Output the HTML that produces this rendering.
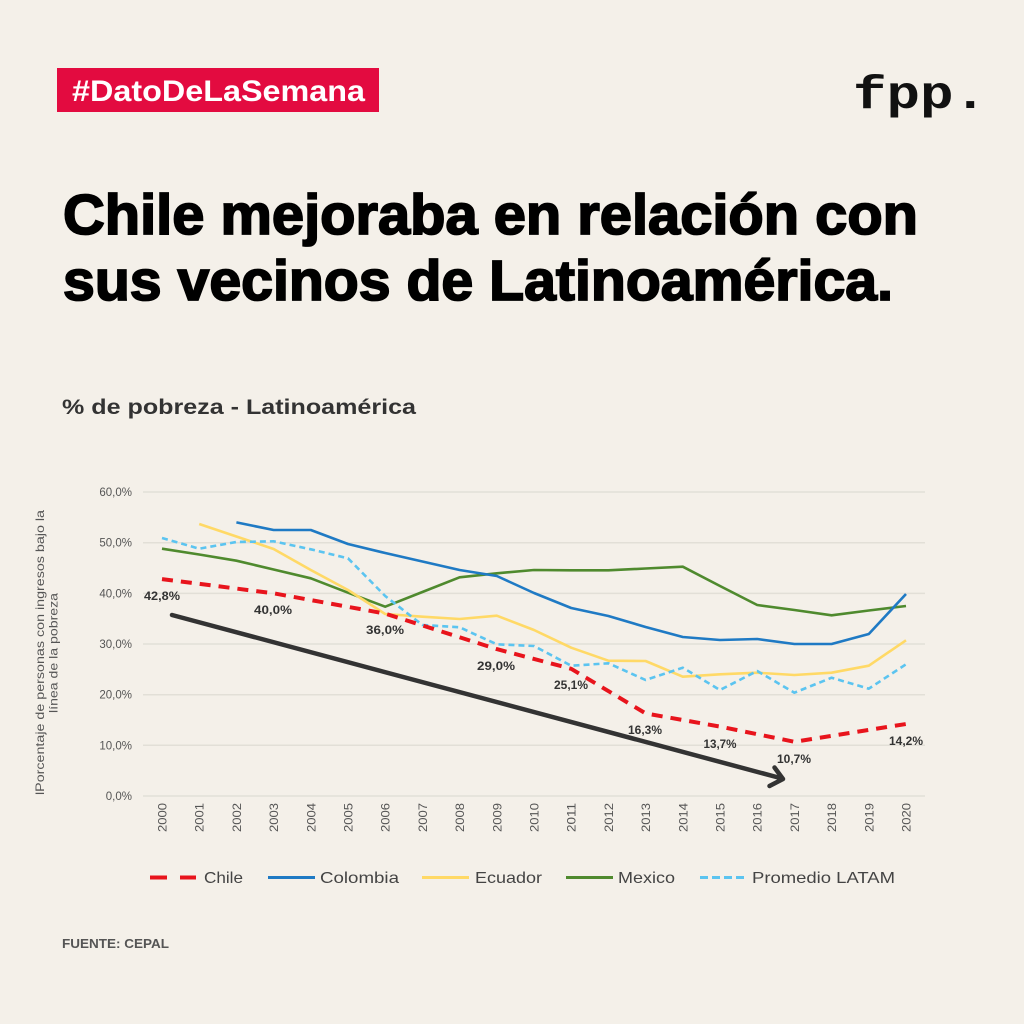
<!DOCTYPE html>
<html>
<head>
<meta charset="utf-8">
<style>
  html, body { margin: 0; padding: 0; background: #f4f0e9; }
  body { width: 1024px; height: 1024px; overflow: hidden; }
  svg { display: block; }
  text { font-family: "Liberation Sans", sans-serif; }
</style>
</head>
<body>
<svg width="1024" height="1024" viewBox="0 0 1024 1024" xmlns="http://www.w3.org/2000/svg">
  <rect x="0" y="0" width="1024" height="1024" fill="#f4f0e9"/>

  <!-- Tag -->
  <rect x="57" y="68" width="322" height="44" fill="#e30b40"/>
  <text x="72" y="101" font-size="30" font-weight="bold" fill="#ffffff" textLength="293" lengthAdjust="spacingAndGlyphs">#DatoDeLaSemana</text>

  <!-- fpp. logo -->
  <text x="853" y="108" font-family="'Liberation Mono', monospace" style="font-family:'Liberation Mono', monospace" font-size="46" font-weight="bold" fill="#111" textLength="134" lengthAdjust="spacingAndGlyphs">fpp.</text>

  <!-- Title -->
  <text x="63" y="234" font-size="57" font-weight="bold" fill="#000" stroke="#000" stroke-width="1.8" textLength="855" lengthAdjust="spacingAndGlyphs">Chile mejoraba en relación con</text>
  <text x="63" y="300" font-size="57" font-weight="bold" fill="#000" stroke="#000" stroke-width="1.8" textLength="830" lengthAdjust="spacingAndGlyphs">sus vecinos de Latinoamérica.</text>

  <!-- Subtitle -->
  <text x="62" y="414" font-size="21" font-weight="bold" fill="#333" textLength="354" lengthAdjust="spacingAndGlyphs">% de pobreza - Latinoamérica</text>

  <!-- Gridlines -->
  <g stroke="#e2dfd7" stroke-width="1.5">
    <line x1="143" y1="492" x2="925" y2="492"/>
    <line x1="143" y1="542.7" x2="925" y2="542.7"/>
    <line x1="143" y1="593.4" x2="925" y2="593.4"/>
    <line x1="143" y1="644" x2="925" y2="644"/>
    <line x1="143" y1="694.7" x2="925" y2="694.7"/>
    <line x1="143" y1="745.3" x2="925" y2="745.3"/>
    <line x1="143" y1="796" x2="925" y2="796"/>
  </g>

  <!-- Y labels -->
  <g font-size="11.5" fill="#555" text-anchor="end">
    <text x="132" y="496">60,0%</text>
    <text x="132" y="546.7">50,0%</text>
    <text x="132" y="597.4">40,0%</text>
    <text x="132" y="648">30,0%</text>
    <text x="132" y="698.7">20,0%</text>
    <text x="132" y="749.3">10,0%</text>
    <text x="132" y="800">0,0%</text>
  </g>

  <!-- X labels -->
  <g font-size="12" fill="#555" text-anchor="end">
    <text transform="translate(166.5,803) rotate(-90)" textLength="29" lengthAdjust="spacingAndGlyphs">2000</text>
    <text transform="translate(203.7,803) rotate(-90)" textLength="29" lengthAdjust="spacingAndGlyphs">2001</text>
    <text transform="translate(240.9,803) rotate(-90)" textLength="29" lengthAdjust="spacingAndGlyphs">2002</text>
    <text transform="translate(278.1,803) rotate(-90)" textLength="29" lengthAdjust="spacingAndGlyphs">2003</text>
    <text transform="translate(315.3,803) rotate(-90)" textLength="29" lengthAdjust="spacingAndGlyphs">2004</text>
    <text transform="translate(352.5,803) rotate(-90)" textLength="29" lengthAdjust="spacingAndGlyphs">2005</text>
    <text transform="translate(389.7,803) rotate(-90)" textLength="29" lengthAdjust="spacingAndGlyphs">2006</text>
    <text transform="translate(426.9,803) rotate(-90)" textLength="29" lengthAdjust="spacingAndGlyphs">2007</text>
    <text transform="translate(464.1,803) rotate(-90)" textLength="29" lengthAdjust="spacingAndGlyphs">2008</text>
    <text transform="translate(501.3,803) rotate(-90)" textLength="29" lengthAdjust="spacingAndGlyphs">2009</text>
    <text transform="translate(538.5,803) rotate(-90)" textLength="29" lengthAdjust="spacingAndGlyphs">2010</text>
    <text transform="translate(575.7,803) rotate(-90)" textLength="29" lengthAdjust="spacingAndGlyphs">2011</text>
    <text transform="translate(612.9,803) rotate(-90)" textLength="29" lengthAdjust="spacingAndGlyphs">2012</text>
    <text transform="translate(650.1,803) rotate(-90)" textLength="29" lengthAdjust="spacingAndGlyphs">2013</text>
    <text transform="translate(687.3,803) rotate(-90)" textLength="29" lengthAdjust="spacingAndGlyphs">2014</text>
    <text transform="translate(724.5,803) rotate(-90)" textLength="29" lengthAdjust="spacingAndGlyphs">2015</text>
    <text transform="translate(761.7,803) rotate(-90)" textLength="29" lengthAdjust="spacingAndGlyphs">2016</text>
    <text transform="translate(798.9,803) rotate(-90)" textLength="29" lengthAdjust="spacingAndGlyphs">2017</text>
    <text transform="translate(836.1,803) rotate(-90)" textLength="29" lengthAdjust="spacingAndGlyphs">2018</text>
    <text transform="translate(873.3,803) rotate(-90)" textLength="29" lengthAdjust="spacingAndGlyphs">2019</text>
    <text transform="translate(910.5,803) rotate(-90)" textLength="29" lengthAdjust="spacingAndGlyphs">2020</text>
  </g>

  <!-- Y axis title -->
  <g font-size="12" fill="#555" text-anchor="middle">
    <text transform="translate(44,652.5) rotate(-90)" textLength="285" lengthAdjust="spacingAndGlyphs">lPorcentaje de personas con ingresos bajo la</text>
    <text transform="translate(57.5,653) rotate(-90)" textLength="120" lengthAdjust="spacingAndGlyphs">línea de la pobreza</text>
  </g>

  <!-- Series -->
  <g fill="none" stroke-linejoin="round">
    <!-- Mexico -->
    <polyline stroke="#4f8a2e" stroke-width="2.6" points="162,548.7 199.2,554.5 236.4,560.7 273.6,569.5 310.8,578.3 348,592.7 385.2,606.7 422.4,592 459.6,577.3 496.8,573.3 534,570 571.2,570.3 608.4,570.3 645.6,568.5 682.8,566.7 720,586 757.2,605 794.4,610 831.6,615.3 868.8,610.5 906,606"/>
    <!-- Colombia -->
    <polyline stroke="#1f7ac4" stroke-width="2.6" points="236.4,522.4 273.6,530 310.8,530 348,544 385.2,553 422.4,561.5 459.6,570 496.8,576 534,593 571.2,608 608.4,616 645.6,627 682.8,637 720,640 757.2,639 794.4,644 831.6,644 868.8,634 906,594"/>
    <!-- Ecuador -->
    <polyline stroke="#ffd966" stroke-width="2.6" points="199.2,524 236.4,536.5 273.6,549 310.8,570 348,590 385.2,614 422.4,616.7 459.6,619 496.8,615.7 534,630 571.2,647.7 608.4,660.7 645.6,661 682.8,676.7 720,674.3 757.2,672.7 794.4,675 831.6,672.7 868.8,665.7 906,640.3"/>
    <!-- Promedio LATAM -->
    <polyline stroke="#5bc4f0" stroke-width="2.6" stroke-dasharray="6 4" points="162,538 199.2,548.7 236.4,542 273.6,541.3 310.8,549.3 348,558.3 385.2,596 422.4,625 459.6,627.3 496.8,644.3 534,646 571.2,665.7 608.4,663.3 645.6,680 682.8,667.7 720,690 757.2,671 794.4,692.7 831.6,677.7 868.8,688.7 906,664.3"/>
    <!-- Chile -->
    <polyline stroke="#e8141c" stroke-width="4" stroke-dasharray="11 8" points="162,579.1 273.6,593.3 385.2,613.6 496.8,649.1 571.2,668.8 645.6,713.4 720,726.6 794.4,741.8 906,724"/>
  </g>

  <!-- Arrow -->
  <g stroke="#333" stroke-width="4.5" fill="none" stroke-linecap="round" stroke-linejoin="round">
    <line x1="172" y1="615" x2="782" y2="778.5"/>
    <polyline points="774.5,767.5 783,779 769.5,786"/>
  </g>

  <!-- Chile value labels -->
  <g font-size="12" font-weight="bold" fill="#333" text-anchor="middle">
    <text x="162" y="600" textLength="36" lengthAdjust="spacingAndGlyphs">42,8%</text>
    <text x="273" y="614" textLength="38" lengthAdjust="spacingAndGlyphs">40,0%</text>
    <text x="385" y="634" textLength="38" lengthAdjust="spacingAndGlyphs">36,0%</text>
    <text x="496" y="670" textLength="38" lengthAdjust="spacingAndGlyphs">29,0%</text>
    <text x="571" y="689" textLength="34" lengthAdjust="spacingAndGlyphs">25,1%</text>
    <text x="645" y="734" textLength="34" lengthAdjust="spacingAndGlyphs">16,3%</text>
    <text x="720" y="748" textLength="33" lengthAdjust="spacingAndGlyphs">13,7%</text>
    <text x="794" y="763" textLength="34" lengthAdjust="spacingAndGlyphs">10,7%</text>
    <text x="906" y="745" textLength="34" lengthAdjust="spacingAndGlyphs">14,2%</text>
  </g>

  <!-- Legend -->
  <g fill="none">
    <line x1="150" y1="877.5" x2="196" y2="877.5" stroke="#e8141c" stroke-width="4" stroke-dasharray="17 13"/>
    <line x1="268" y1="877.5" x2="315" y2="877.5" stroke="#1f7ac4" stroke-width="3"/>
    <line x1="422" y1="877.5" x2="469" y2="877.5" stroke="#ffd966" stroke-width="3"/>
    <line x1="566" y1="877.5" x2="613" y2="877.5" stroke="#4f8a2e" stroke-width="3"/>
    <line x1="700" y1="877.5" x2="747" y2="877.5" stroke="#5bc4f0" stroke-width="3" stroke-dasharray="8 4"/>
  </g>
  <g font-size="16" fill="#444">
    <text x="204" y="883" textLength="39" lengthAdjust="spacingAndGlyphs">Chile</text>
    <text x="320" y="883" textLength="79" lengthAdjust="spacingAndGlyphs">Colombia</text>
    <text x="475" y="883" textLength="67" lengthAdjust="spacingAndGlyphs">Ecuador</text>
    <text x="618" y="883" textLength="57" lengthAdjust="spacingAndGlyphs">Mexico</text>
    <text x="752" y="883" textLength="143" lengthAdjust="spacingAndGlyphs">Promedio LATAM</text>
  </g>

  <!-- Footer -->
  <text x="62" y="948" font-size="13" font-weight="bold" fill="#555" textLength="107" lengthAdjust="spacingAndGlyphs">FUENTE: CEPAL</text>
</svg>
</body>
</html>
